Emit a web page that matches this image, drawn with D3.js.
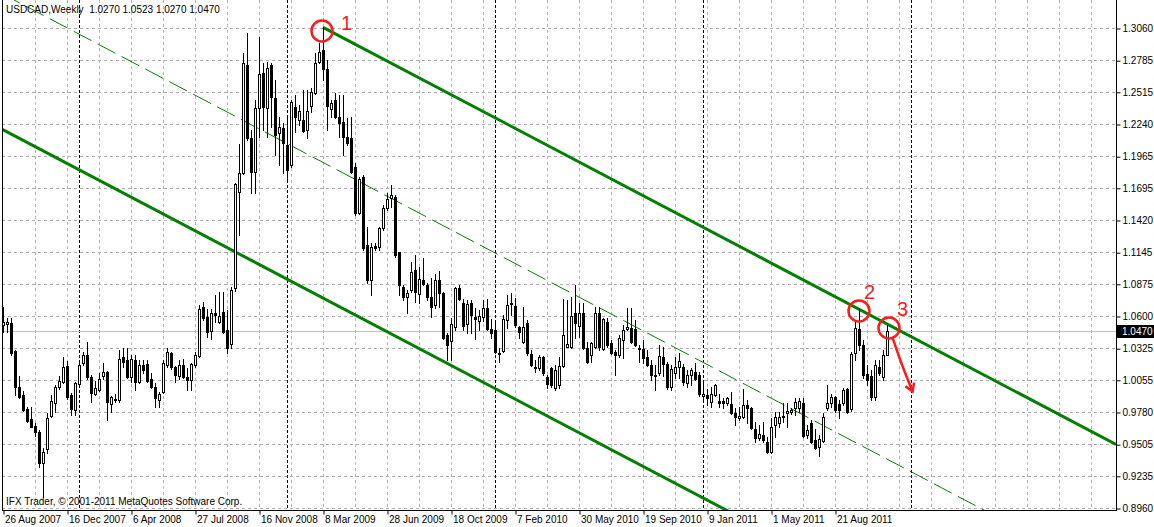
<!DOCTYPE html>
<html><head><meta charset="utf-8">
<script src="https://cdn.jsdelivr.net/npm/d3@7"></script>
<style>
html,body{margin:0;padding:0;background:#fff;}
svg{display:block;font-family:"Liberation Sans",Arial,sans-serif;}
</style></head><body>
<svg id="chart" width="1154" height="527"></svg>
<script>
// ---- data (weekly USDCAD bars, index 0 = week of 26 Aug 2007) ----
const opens = [1.0523,1.0532,1.0540,1.0301,0.9994,0.9925,0.9806,0.9720,0.9661,0.9610,
0.9345,0.9464,0.9746,0.9857,0.9994,1.0037,1.0173,0.9925,0.9798,1.0020,
1.0199,1.0267,1.0079,0.9934,0.9968,1.0088,1.0122,0.9849,0.9891,0.9883,
1.0250,1.0225,1.0079,1.0225,1.0037,1.0182,1.0190,1.0062,0.9994,0.9883,
0.9951,1.0182,1.0284,1.0165,1.0088,1.0182,1.0079,1.0054,1.0182,1.0259,
1.0677,1.0592,1.0472,1.0626,1.0549,1.0634,1.0481,1.0361,1.0839,1.1659,
1.1821,1.2744,1.2120,1.1830,1.2377,1.2676,1.2377,1.2744,1.2462,1.2163,
1.2206,1.2061,1.1890,1.2385,1.2274,1.2274,1.2189,1.2394,1.2505,1.2770,
1.2872,1.2710,1.2368,1.2445,1.2300,1.2257,1.2129,1.2120,1.1873,1.1480,
1.1787,1.1207,1.0908,1.1198,1.1190,1.1352,1.1523,1.1608,1.1617,1.1147,
1.0848,1.0763,1.0822,1.0993,1.0788,1.0908,1.0865,1.0763,1.0694,1.0908,
1.0797,1.0438,1.0387,1.0506,1.0839,1.0711,1.0532,1.0711,1.0592,1.0558,
1.0592,1.0669,1.0489,1.0481,1.0284,1.0301,1.0566,1.0711,1.0686,1.0506,
1.0378,1.0540,1.0276,1.0165,1.0156,1.0250,1.0079,1.0156,0.9985,1.0011,
1.0173,1.0336,1.0336,1.0626,1.0515,1.0626,1.0327,1.0267,1.0336,1.0626,
1.0318,1.0549,1.0370,1.0293,1.0267,1.0395,1.0489,1.0498,1.0489,1.0327,
1.0318,1.0250,1.0182,1.0097,1.0114,1.0250,1.0190,0.9994,1.0114,1.0165,
1.0165,1.0028,1.0097,1.0122,1.0097,0.9917,0.9925,0.9866,0.9925,0.9874,
0.9874,0.9857,0.9849,0.9772,0.9729,0.9738,0.9840,0.9815,0.9635,0.9558,
0.9584,0.9524,0.9439,0.9669,0.9686,0.9738,0.9772,0.9781,0.9815,0.9815,
0.9857,0.9584,0.9686,0.9541,0.9481,0.9533,0.9815,0.9857,0.9908,0.9849,
0.9857,0.9977,0.9806,1.0284,1.0489,1.0353,1.0105,1.0088,0.9908,1.0165,
1.0079,1.0270];
const highs = [1.0677,1.0583,1.0583,1.0310,1.0088,0.9960,0.9823,0.9823,0.9686,0.9627,
0.9473,0.9772,0.9925,1.0011,1.0088,1.0251,1.0216,0.9942,1.0037,1.0207,
1.0293,1.0378,1.0097,1.0045,1.0114,1.0199,1.0131,0.9917,0.9934,1.0310,
1.0327,1.0327,1.0267,1.0267,1.0225,1.0225,1.0225,1.0114,1.0028,0.9951,
1.0225,1.0327,1.0293,1.0173,1.0225,1.0233,1.0156,1.0199,1.0293,1.0694,
1.0720,1.0660,1.0660,1.0780,1.0805,1.0805,1.0652,1.0848,1.1736,1.2069,
1.2846,1.3017,1.2189,1.2445,1.2983,1.2761,1.2770,1.2761,1.2616,1.2300,
1.2249,1.2300,1.2445,1.2488,1.2402,1.2530,1.2530,1.2548,1.2846,1.2932,
1.3068,1.2787,1.2445,1.2505,1.2488,1.2488,1.2291,1.2300,1.1907,1.1787,
1.1804,1.1360,1.1224,1.1224,1.1360,1.1548,1.1651,1.1719,1.1634,1.1147,
1.0865,1.0822,1.1062,1.1121,1.1019,1.1096,1.0882,1.0925,1.0959,1.0985,
1.0805,1.0455,1.0583,1.0848,1.0865,1.0746,1.0737,1.0737,1.0669,1.0652,
1.0737,1.0746,1.0575,1.0566,1.0327,1.0609,1.0780,1.0797,1.0754,1.0515,
1.0677,1.0566,1.0310,1.0225,1.0267,1.0259,1.0097,1.0165,1.0182,1.0250,
1.0746,1.0737,1.0763,1.0865,1.0711,1.0711,1.0378,1.0378,1.0677,1.0677,
1.0583,1.0583,1.0395,1.0310,1.0438,1.0523,1.0669,1.0669,1.0566,1.0353,
1.0395,1.0310,1.0225,1.0182,1.0353,1.0336,1.0207,1.0182,1.0250,1.0284,
1.0190,1.0139,1.0156,1.0199,1.0122,1.0037,0.9977,0.9994,1.0020,0.9934,
0.9900,0.9908,0.9951,0.9815,0.9823,0.9977,0.9883,0.9823,0.9695,0.9669,
0.9695,0.9567,0.9729,0.9781,0.9781,0.9857,0.9857,0.9815,0.9900,0.9900,
0.9900,0.9669,0.9712,0.9635,0.9584,0.9772,1.0011,0.9934,0.9917,0.9883,
0.9985,0.9985,1.0293,1.0566,1.0669,1.0395,1.0182,1.0139,1.0225,1.0225,
1.0310,1.0523];
const lows = [1.0464,1.0464,1.0267,0.9925,0.9900,0.9789,0.9695,0.9652,0.9576,0.9311,
0.9054,0.9430,0.9738,0.9781,0.9977,1.0028,0.9891,0.9755,0.9755,1.0003,
1.0182,1.0062,0.9866,0.9925,0.9960,1.0062,0.9712,0.9781,0.9866,0.9866,
1.0165,1.0071,1.0037,0.9968,1.0028,1.0114,1.0037,0.9985,0.9823,0.9823,
0.9942,1.0165,1.0148,1.0037,1.0062,1.0071,0.9968,0.9968,1.0165,1.0250,
1.0566,1.0421,1.0404,1.0549,1.0540,1.0455,1.0284,1.0327,1.0814,1.1292,
1.1813,1.2103,1.1651,1.1651,1.2129,1.2189,1.2129,1.2214,1.1975,1.1890,
1.1821,1.1761,1.1873,1.2172,1.2232,1.2172,1.2120,1.2343,1.2496,1.2761,
1.2616,1.2189,1.2300,1.2291,1.2129,1.1975,1.2061,1.1821,1.1463,1.1471,
1.1164,1.0882,1.0780,1.1164,1.1164,1.1335,1.1506,1.1531,1.1104,1.0780,
1.0737,1.0626,1.0805,1.0720,1.0711,1.0865,1.0737,1.0592,1.0669,1.0677,
1.0404,1.0225,1.0225,1.0481,1.0737,1.0481,1.0455,1.0455,1.0404,1.0481,
1.0558,1.0481,1.0412,1.0284,1.0207,1.0293,1.0498,1.0609,1.0506,1.0412,
1.0370,1.0267,1.0173,1.0122,1.0139,1.0097,0.9985,0.9994,0.9968,0.9985,
1.0165,1.0336,1.0327,1.0412,1.0421,1.0318,1.0199,1.0207,1.0327,1.0310,
1.0310,1.0336,1.0276,1.0097,1.0250,1.0242,1.0481,1.0370,1.0344,1.0207,
1.0199,1.0173,1.0054,0.9968,1.0097,1.0088,0.9977,0.9968,1.0071,1.0071,
1.0011,0.9994,1.0011,1.0054,0.9917,0.9883,0.9840,0.9823,0.9917,0.9823,
0.9815,0.9840,0.9764,0.9669,0.9712,0.9729,0.9686,0.9635,0.9524,0.9541,
0.9524,0.9430,0.9430,0.9567,0.9652,0.9695,0.9652,0.9764,0.9755,0.9781,
0.9567,0.9558,0.9516,0.9464,0.9405,0.9524,0.9798,0.9823,0.9781,0.9729,
0.9840,0.9772,0.9789,1.0225,1.0310,1.0071,1.0011,0.9883,0.9883,1.0097,
1.0054,1.0270];
const closes = [1.0549,1.0549,1.0284,0.9994,0.9908,0.9798,0.9703,0.9652,0.9610,0.9345,
0.9439,0.9729,0.9874,0.9994,1.0045,1.0165,0.9908,0.9806,1.0028,1.0182,
1.0267,1.0079,0.9942,0.9985,1.0062,1.0122,0.9866,0.9908,0.9883,1.0233,
1.0207,1.0079,1.0233,1.0037,1.0182,1.0139,1.0045,0.9994,0.9900,0.9934,
1.0199,1.0293,1.0165,1.0097,1.0182,1.0079,1.0054,1.0190,1.0267,1.0660,
1.0583,1.0464,1.0626,1.0609,1.0600,1.0464,1.0327,1.0822,1.1728,1.1821,
1.2761,1.2120,1.1830,1.2377,1.2667,1.2385,1.2718,1.2471,1.2146,1.2214,
1.2078,1.1847,1.2428,1.2300,1.2351,1.2180,1.2351,1.2513,1.2761,1.2855,
1.2710,1.2394,1.2419,1.2300,1.2249,1.2129,1.2078,1.1830,1.1480,1.1770,
1.1181,1.0908,1.1190,1.1181,1.1352,1.1523,1.1599,1.1634,1.1121,1.0865,
1.0763,1.0797,1.0976,1.0805,1.0916,1.0874,1.0763,1.0677,1.0908,1.0797,
1.0412,1.0353,1.0532,1.0839,1.0746,1.0515,1.0703,1.0609,1.0575,1.0600,
1.0669,1.0489,1.0455,1.0293,1.0276,1.0575,1.0694,1.0703,1.0523,1.0464,
1.0506,1.0284,1.0182,1.0156,1.0250,1.0114,1.0020,1.0011,1.0139,1.0173,
1.0438,1.0361,1.0600,1.0540,1.0626,1.0327,1.0207,1.0370,1.0626,1.0336,
1.0575,1.0353,1.0284,1.0267,1.0412,1.0481,1.0506,1.0378,1.0353,1.0318,
1.0242,1.0182,1.0097,1.0088,1.0259,1.0190,0.9994,1.0148,1.0165,1.0216,
1.0037,1.0097,1.0139,1.0062,0.9934,0.9934,0.9900,0.9934,1.0011,0.9857,
0.9857,0.9900,0.9772,0.9738,0.9746,0.9840,0.9815,0.9644,0.9558,0.9593,
0.9541,0.9439,0.9652,0.9738,0.9738,0.9746,0.9789,0.9798,0.9866,0.9874,
0.9576,0.9627,0.9524,0.9473,0.9550,0.9738,0.9857,0.9908,0.9798,0.9798,
0.9968,0.9781,1.0276,1.0498,1.0353,1.0097,1.0054,0.9908,1.0182,1.0114,
1.0267,1.0470];

const dateLabels = ["26 Aug 2007","16 Dec 2007","6 Apr 2008","27 Jul 2008","16 Nov 2008","8 Mar 2009",
  "28 Jun 2009","18 Oct 2009","7 Feb 2010","30 May 2010","19 Sep 2010","9 Jan 2011","1 May 2011","21 Aug 2011"];
const dateLabelBars = [0,16,32,48,64,80,96,112,128,144,160,176,192,208];
const priceTicks = [1.3060,1.2785,1.2515,1.2240,1.1965,1.1695,1.1420,1.1145,1.0875,1.0600,1.0325,1.0055,0.9780,0.9505,0.9235,0.8960];
const yearSeparatorBars = [19,71,123,175,227];
const lastPrice = 1.0470;
const titleText = "USDCAD,Weekly  1.0270 1.0523 1.0270 1.0470";
const copyrightText = "IFX Trader, \u00A9 2001-2011 MetaQuotes Software Corp.";

// channel lines: [bar, price] anchor pairs
const upperChannel = [[80, 1.3066], [214, 1.0658]];
const lowerChannel = [[0, 1.2191], [100, 1.0394]];
const middleChannel = [[28, 1.2846], [128, 1.1049]];

// red annotations: [bar, price, label]
const marks = [[79.75, 1.3034, "1"], [214, 1.0643, "2"], [221.5, 1.0498, "3"]];
const markLabels = [[84.5, 1.3043, "1"], [215.25, 1.0746, "2"], [223.5, 1.0600, "3"]];
const arrowPath = [[222.3, 1.0425], [224.6, 1.0190], [227.4, 0.9955]];

// ---- drawing ----
const svg = d3.select("#chart");
const P = {left: 2, top: 0, right: 1116, bottom: 510};
const x = d3.scaleLinear().domain([0, 221]).range([3, 887]);
const y = d3.scaleLinear().domain([0.8960, 1.3060]).range([508, 28]);

svg.append("rect").attr("width",1154).attr("height",527).attr("fill","#fff");

svg.append("clipPath").attr("id","plotclip").append("rect")
  .attr("x",P.left+1).attr("y",P.top).attr("width",P.right-P.left-1).attr("height",P.bottom-P.top);

const g = svg.append("g").attr("clip-path","url(#plotclip)");

// grid
const gridBars = d3.range(8, 280, 8);
g.selectAll("line.vg").data(gridBars).join("line")
  .attr("x1",d=>Math.round(x(d))+0.5).attr("x2",d=>Math.round(x(d))+0.5)
  .attr("y1",P.top).attr("y2",P.bottom)
  .attr("stroke","#b4b4b4").attr("stroke-dasharray","3,3");
g.selectAll("line.hg").data(priceTicks).join("line")
  .attr("x1",P.left).attr("x2",P.right)
  .attr("y1",d=>Math.round(y(d))+0.5).attr("y2",d=>Math.round(y(d))+0.5)
  .attr("stroke","#b8a8b8").attr("stroke-dasharray","3,3");
// period separators
g.selectAll("line.sep").data(yearSeparatorBars).join("line")
  .attr("x1",d=>Math.round(x(d))+0.5).attr("x2",d=>Math.round(x(d))+0.5)
  .attr("y1",P.top).attr("y2",P.bottom)
  .attr("stroke","#000").attr("stroke-dasharray","3,2");
// last price line
g.append("line").attr("x1",P.left).attr("x2",P.right)
  .attr("y1",Math.round(y(lastPrice))+0.5).attr("y2",Math.round(y(lastPrice))+0.5)
  .attr("stroke","#c0c0c0");

// channel lines
function lineAt(anchor, bar){ const [b0,p0]=anchor[0],[b1,p1]=anchor[1]; return p0+(p1-p0)*(bar-b0)/(b1-b0); }
const xEnd = x.invert(P.right), xStart = x.invert(P.left);
const chLine = d3.line().x(d=>x(d[0])).y(d=>y(d[1]));
g.append("path").attr("d", chLine([[xStart, lineAt(middleChannel,xStart)],[xEnd, lineAt(middleChannel,xEnd)]]))
  .attr("stroke","#008000").attr("stroke-width",1).attr("fill","none").attr("stroke-dasharray","20,7");
g.append("path").attr("d", chLine([[upperChannel[0][0], upperChannel[0][1]],[xEnd, lineAt(upperChannel,xEnd)]]))
  .attr("stroke","#008000").attr("stroke-width",3).attr("fill","none");
g.append("path").attr("d", chLine([[xStart, lineAt(lowerChannel,xStart)],[xEnd, lineAt(lowerChannel,xEnd)]]))
  .attr("stroke","#008000").attr("stroke-width",3).attr("fill","none");

// candles
const bars = opens.map((o,i)=>({i,o,h:highs[i],l:lows[i],c:closes[i]}));
const cg = g.append("g").attr("shape-rendering","crispEdges");
bars.forEach(b=>{
  const px = Math.round(x(b.i));
  const yh = Math.round(y(b.h)), yl = Math.round(y(b.l));
  const yt = Math.round(y(Math.max(b.o,b.c))), yb = Math.round(y(Math.min(b.o,b.c)));
  cg.append("rect").attr("x",px).attr("y",yh).attr("width",1).attr("height",Math.max(1,yl-yh+1)).attr("fill","#000");
  cg.append("rect").attr("x",px-1).attr("y",yt).attr("width",3).attr("height",Math.max(1,yb-yt+1)).attr("fill","#000");
  if (b.c >= b.o && yb-yt >= 2) cg.append("rect").attr("x",px).attr("y",yt+1).attr("width",1).attr("height",yb-yt-1).attr("fill","#fff");
});

// annotations
const red = "#ff1a1a";
g.selectAll("circle.mk").data(marks).join("circle")
  .attr("cx",d=>x(d[0])).attr("cy",d=>y(d[1])).attr("r",10.5)
  .attr("fill","none").attr("stroke",red).attr("stroke-width",2.5);
svg.selectAll("text.mk").data(markLabels).join("text")
  .attr("x",d=>x(d[0])).attr("y",d=>y(d[1]))
  .attr("fill",red).attr("font-size",20).text(d=>d[2]);
g.append("path").attr("d", d3.line().x(d=>x(d[0])).y(d=>y(d[1])).curve(d3.curveBasis)(arrowPath))
  .attr("stroke",red).attr("stroke-width",2.5).attr("fill","none");
{
  const [b1,p1] = arrowPath[arrowPath.length-1], [b0,p0] = arrowPath[arrowPath.length-2];
  const ex = x(b1), ey = y(p1); const ang = Math.atan2(ey-y(p0), ex-x(b0));
  const L = 9, a = 0.55;
  g.append("path").attr("d",`M${ex-L*Math.cos(ang-a)},${ey-L*Math.sin(ang-a)}L${ex},${ey}L${ex-L*Math.cos(ang+a)},${ey-L*Math.sin(ang+a)}`)
    .attr("stroke",red).attr("stroke-width",2.5).attr("fill","none");
}

// frame
svg.append("g").attr("shape-rendering","crispEdges").call(s=>{
  s.append("line").attr("x1",P.left+0.5).attr("x2",P.left+0.5).attr("y1",P.top).attr("y2",P.bottom+1).attr("stroke","#000");
  s.append("line").attr("x1",P.right+0.5).attr("x2",P.right+0.5).attr("y1",P.top).attr("y2",P.bottom+1).attr("stroke","#000");
  s.append("line").attr("x1",P.left).attr("x2",P.right+1).attr("y1",P.bottom+0.5).attr("y2",P.bottom+0.5).attr("stroke","#000");
});

// price axis
const yAxis = d3.axisRight(y).tickValues(priceTicks).tickSize(4).tickPadding(2).tickFormat(d3.format(".4f"));
const ya = svg.append("g").attr("transform",`translate(${P.right+0.5},0.5)`).call(yAxis);
ya.select(".domain").remove();
ya.selectAll("line").attr("stroke","#000");
ya.selectAll("text").attr("font-size",10).attr("font-family","Liberation Sans, Arial, sans-serif").attr("fill","#000");

// last price box
svg.append("rect").attr("x",P.right+1).attr("y",Math.round(y(lastPrice))-6).attr("width",38).attr("height",13).attr("fill","#000");
svg.append("text").attr("x",P.right+6).attr("y",Math.round(y(lastPrice))+4).attr("fill","#fff").attr("font-size",10)
  .text(d3.format(".4f")(lastPrice));

// time axis
const xAxis = d3.axisBottom(x).tickValues(dateLabelBars).tickSize(4).tickFormat((d,k)=>dateLabels[k]);
const xa = svg.append("g").attr("transform",`translate(0.5,${P.bottom+0.5})`).call(xAxis);
xa.select(".domain").remove();
xa.selectAll("line").attr("stroke","#000");
xa.selectAll("text").attr("text-anchor","start").attr("dx",1).attr("dy","0.55em").attr("font-size",10)
  .attr("font-family","Liberation Sans, Arial, sans-serif").attr("fill","#000");

// texts
svg.append("text").attr("x",6).attr("y",13).attr("font-size",10).attr("fill","#000").attr("xml:space","preserve").text(titleText);
svg.append("text").attr("x",6).attr("y",505).attr("font-size",10).attr("fill","#000").text(copyrightText);
</script>
</body></html>
